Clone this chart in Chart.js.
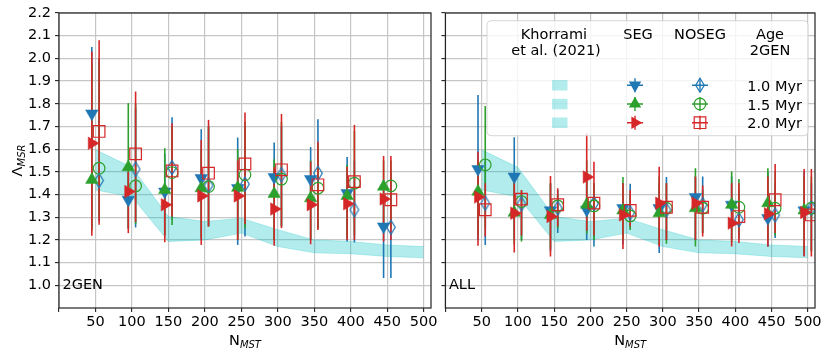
<!DOCTYPE html>
<html>
<head>
<meta charset="utf-8">
<script src="https://cdn.jsdelivr.net/npm/chart.js@4.4.1/dist/chart.umd.min.js"></script>
<style>
  body { margin: 0; background: #fff; }
  #wrap { position: relative; width: 830px; height: 358px; }
  canvas { position: absolute; top: 0; }
</style>
</head>
<body>
<div id="wrap">
  <canvas id="left" style="left:0" width="445" height="358"></canvas>
  <canvas id="right" style="left:436px" width="394" height="358"></canvas>
</div>
<script>
// N_MST values for each panel
const nLeft = [50, 100, 150, 200, 250, 300, 350, 400, 450];
const nRight = [50, 100, 150, 200, 250, 300, 350, 400, 450, 500];
const ages = ['1.0 Myr', '1.5 Myr', '2.0 Myr'];

// Khorrami et al. (2021) band
const bandN  = [50, 100, 150, 200, 250, 300, 350, 400, 450, 500];
const bandLo = [1.42, 1.39, 1.193, 1.20, 1.23, 1.171, 1.143, 1.139, 1.127, 1.121];
const bandHi = [1.597, 1.52, 1.303, 1.281, 1.296, 1.245, 1.20, 1.193, 1.178, 1.171];

// 2GEN panel, SEG
const gSeg10   = [1.757, 1.377, 1.413, 1.472, 1.428, 1.477, 1.468, 1.406, 1.259];
const gSeg10Lo = [1.25, 1.25, 1.22, 1.20, 1.178, 1.20, 1.20, 1.193, 1.032];
const gSeg10Hi = [2.05, 1.50, 1.58, 1.688, 1.651, 1.629, 1.609, 1.565, 1.45];
const gSeg15   = [1.465, 1.521, 1.42, 1.428, 1.43, 1.403, 1.384, 1.394, 1.435];
const gSeg15Lo = [1.24, 1.25, 1.22, 1.21, 1.20, 1.20, 1.20, 1.21, 1.25];
const gSeg15Hi = [1.98, 1.803, 1.604, 1.60, 1.60, 1.555, 1.55, 1.53, 1.55];
const gSeg20   = [1.626, 1.413, 1.355, 1.394, 1.394, 1.336, 1.355, 1.359, 1.38];
const gSeg20Lo = [1.218, 1.23, 1.19, 1.178, 1.20, 1.174, 1.181, 1.20, 1.193];
const gSeg20Hi = [2.03, 1.50, 1.42, 1.64, 1.55, 1.52, 1.545, 1.523, 1.57];
// 2GEN panel, NOSEG
const gNos10   = [1.462, 1.512, 1.519, 1.44, 1.446, 1.487, 1.494, 1.333, 1.256];
const gNos10Lo = [1.28, 1.255, 1.29, 1.26, 1.215, 1.26, 1.25, 1.189, 1.032];
const gNos10Hi = [2.0, 1.78, 1.741, 1.70, 1.70, 1.70, 1.732, 1.55, 1.50];
const gNos15   = [1.516, 1.438, 1.497, 1.435, 1.487, 1.468, 1.428, 1.45, 1.438];
const gNos15Lo = [1.30, 1.27, 1.266, 1.26, 1.25, 1.26, 1.25, 1.22, 1.25];
const gNos15Hi = [2.0, 1.80, 1.70, 1.70, 1.72, 1.72, 1.62, 1.68, 1.55];
const gNos20   = [1.678, 1.579, 1.504, 1.494, 1.535, 1.509, 1.443, 1.457, 1.377];
const gNos20Lo = [1.267, 1.28, 1.303, 1.259, 1.27, 1.252, 1.244, 1.20, 1.20];
const gNos20Hi = [2.08, 1.854, 1.714, 1.729, 1.761, 1.755, 1.633, 1.707, 1.57];

// ALL panel, SEG
const aSeg10   = [1.512, 1.479, 1.33, 1.333, 1.34, 1.34, 1.389, 1.355, 1.296, 1.33];
const aSeg10Lo = [1.20, 1.20, 1.15, 1.20, 1.18, 1.142, 1.20, 1.20, 1.17, 1.13];
const aSeg10Hi = [1.839, 1.653, 1.45, 1.50, 1.45, 1.45, 1.48, 1.48, 1.50, 1.50];
const aSeg15   = [1.413, 1.32, 1.31, 1.355, 1.33, 1.318, 1.34, 1.355, 1.362, 1.33];
const aSeg15Lo = [1.22, 1.18, 1.16, 1.227, 1.20, 1.18, 1.171, 1.19, 1.20, 1.15];
const aSeg15Hi = [1.55, 1.48, 1.45, 1.55, 1.477, 1.48, 1.516, 1.501, 1.516, 1.48];
const aSeg20   = [1.389, 1.318, 1.303, 1.477, 1.31, 1.362, 1.362, 1.274, 1.315, 1.321];
const aSeg20Lo = [1.174, 1.145, 1.127, 1.24, 1.16, 1.17, 1.20, 1.171, 1.171, 1.127];
const aSeg20Hi = [1.589, 1.46, 1.482, 1.67, 1.45, 1.523, 1.48, 1.45, 1.48, 1.512];
// ALL panel, NOSEG
const aNos10   = [1.362, 1.359, 1.34, 1.36, 1.32, 1.333, 1.355, 1.289, 1.31, 1.34];
const aNos10Lo = [1.178, 1.20, 1.23, 1.171, 1.25, 1.20, 1.23, 1.20, 1.208, 1.15];
const aNos10Hi = [1.55, 1.40, 1.42, 1.45, 1.447, 1.477, 1.479, 1.42, 1.45, 1.45];
const aNos15   = [1.531, 1.369, 1.35, 1.35, 1.306, 1.34, 1.34, 1.344, 1.34, 1.34];
const aNos15Lo = [1.25, 1.193, 1.25, 1.20, 1.244, 1.183, 1.23, 1.22, 1.22, 1.15];
const aNos15Hi = [1.79, 1.42, 1.40, 1.45, 1.40, 1.45, 1.42, 1.468, 1.50, 1.48];
const aNos20   = [1.333, 1.38, 1.355, 1.362, 1.33, 1.344, 1.344, 1.303, 1.377, 1.31];
const aNos20Lo = [1.215, 1.22, 1.26, 1.22, 1.26, 1.20, 1.215, 1.186, 1.23, 1.127];
const aNos20Hi = [1.45, 1.42, 1.428, 1.545, 1.42, 1.45, 1.44, 1.45, 1.535, 1.512];

const FONT = "'DejaVu Sans', sans-serif";
const BLUE = '#1f77b4', GREEN = '#2ca02c', RED = '#d62728';
const BAND = 'rgba(0,191,191,0.3)';
const SEG_DX = -5, NOS_DX = 5;

// thin hollow diamond marker (matplotlib 'd')
function diamond(color) {
  const c = document.createElement('canvas');
  c.width = 12; c.height = 17;
  const g = c.getContext('2d');
  g.strokeStyle = color; g.lineWidth = 1.2;
  g.beginPath();
  g.moveTo(6, 1.5); g.lineTo(10.3, 8.5); g.lineTo(6, 15.5); g.lineTo(1.7, 8.5);
  g.closePath(); g.stroke();
  return c;
}

function segSet(n, mean, lo, hi, color, rot) {
  return { type: 'scatter', data: n.map((v, i) => ({ x: v + SEG_DX, y: mean[i] })),
    errLo: lo, errHi: hi, pointStyle: 'triangle', rotation: rot, pointRadius: 7.2,
    backgroundColor: color, borderColor: color, borderWidth: 0.5 };
}
function nosSet(n, mean, lo, hi, color, style, r) {
  return { type: 'scatter', data: n.map((v, i) => ({ x: v + NOS_DX, y: mean[i] })),
    errLo: lo, errHi: hi, pointStyle: style, rotation: 0, pointRadius: r,
    backgroundColor: 'rgba(0,0,0,0)', borderColor: color, borderWidth: 1.2 };
}

function panelData(n, s10, s15, s20, o10, o15, o20) {
  const marks = [
    segSet(n, s10[0], s10[1], s10[2], BLUE, 180),
    nosSet(n, o10[0], o10[1], o10[2], BLUE, diamond(BLUE), 7),
    segSet(n, s15[0], s15[1], s15[2], GREEN, 0),
    nosSet(n, o15[0], o15[1], o15[2], GREEN, 'circle', 5.8),
    segSet(n, s20[0], s20[1], s20[2], RED, 90),
    nosSet(n, o20[0], o20[1], o20[2], RED, 'rect', 8.2)
  ];
  marks.forEach((d, k) => { d.order = 50 - k; });
  return { datasets: [
    { type: 'line', data: bandN.map((x, i) => ({ x, y: bandLo[i] })), borderColor: BAND,
      borderWidth: 0.8, pointRadius: 0, fill: false, order: 100 },
    { type: 'line', data: bandN.map((x, i) => ({ x, y: bandHi[i] })), borderColor: BAND,
      borderWidth: 0.8, pointRadius: 0, fill: '-1', backgroundColor: BAND, order: 99 },
    ...marks
  ] };
}

// vertical error bars, drawn over the band and under the markers
const errorBars = {
  id: 'errorBars',
  afterDatasetDraw(chart, args) {
    if (args.index !== 1) return;
    const { ctx, chartArea: a, scales: { x, y } } = chart;
    ctx.save();
    ctx.beginPath(); ctx.rect(a.left, a.top, a.width, a.height); ctx.clip();
    ctx.lineWidth = 1.6;
    chart.data.datasets.forEach(ds => {
      if (!ds.errLo) return;
      ctx.strokeStyle = ds.borderColor;
      ds.data.forEach((p, i) => {
        const px = x.getPixelForValue(p.x);
        ctx.beginPath();
        ctx.moveTo(px, y.getPixelForValue(ds.errLo[i]));
        ctx.lineTo(px, y.getPixelForValue(ds.errHi[i]));
        ctx.stroke();
      });
    });
    ctx.restore();
  }
};

function subText(ctx, main, sub, cx, cy) {
  ctx.font = '14.5px ' + FONT;
  const w1 = ctx.measureText(main).width;
  ctx.font = 'italic 10px ' + FONT;
  const w2 = ctx.measureText(sub).width;
  const x0 = cx - (w1 + w2) / 2;
  ctx.fillStyle = '#000'; ctx.textAlign = 'left'; ctx.textBaseline = 'alphabetic';
  ctx.font = '14.5px ' + FONT; ctx.fillText(main, x0, cy);
  ctx.font = 'italic 10px ' + FONT; ctx.fillText(sub, x0 + w1, cy + 3);
}

function frame(label, yTitle) {
  return {
    id: 'frame',
    afterDatasetsDraw(chart) {
      const { ctx, chartArea: a } = chart;
      ctx.save();
      ctx.strokeStyle = '#222'; ctx.lineWidth = 1.2;
      ctx.strokeRect(a.left, a.top, a.width, a.height);
      ctx.fillStyle = '#000'; ctx.font = '14.5px ' + FONT;
      ctx.textAlign = 'left'; ctx.textBaseline = 'alphabetic';
      ctx.fillText(label, a.left + 3.5, 288.5);
      subText(ctx, 'N', 'MST', (a.left + a.right) / 2, 345);
      if (yTitle) {
        ctx.translate(22, (a.top + a.bottom) / 2);
        ctx.rotate(-Math.PI / 2);
        subText(ctx, 'Λ', 'MSR', 0, 0);
      }
      ctx.restore();
    }
  };
}

function legendMark(ctx, kind, color, x, y) {
  ctx.strokeStyle = color; ctx.fillStyle = color; ctx.lineWidth = 1.4;
  ctx.beginPath();
  ctx.moveTo(x - 8, y); ctx.lineTo(x + 8, y);
  ctx.moveTo(x, y - 7); ctx.lineTo(x, y + 7);
  ctx.stroke();
  ctx.lineWidth = 1.2;
  ctx.beginPath();
  if (kind === 'down') { ctx.moveTo(x - 6.2, y - 3.6); ctx.lineTo(x + 6.2, y - 3.6); ctx.lineTo(x, y + 7.2); ctx.closePath(); ctx.fill(); }
  else if (kind === 'up') { ctx.moveTo(x - 6.2, y + 3.6); ctx.lineTo(x + 6.2, y + 3.6); ctx.lineTo(x, y - 7.2); ctx.closePath(); ctx.fill(); }
  else if (kind === 'right') { ctx.moveTo(x - 3.6, y - 6.2); ctx.lineTo(x - 3.6, y + 6.2); ctx.lineTo(x + 7.2, y); ctx.closePath(); ctx.fill(); }
  else if (kind === 'diamond') { ctx.moveTo(x, y - 7); ctx.lineTo(x + 4.3, y); ctx.lineTo(x, y + 7); ctx.lineTo(x - 4.3, y); ctx.closePath(); ctx.stroke(); }
  else if (kind === 'circle') { ctx.arc(x, y, 5.8, 0, Math.PI * 2); ctx.stroke(); }
  else { ctx.rect(x - 5.8, y - 5.8, 11.6, 11.6); ctx.stroke(); }
}

const tableLegend = {
  id: 'tableLegend',
  afterDraw(chart) {
    const { ctx, chartArea: a } = chart;
    const bx = a.right - 328, by = a.top + 7.7, bw = 321, bh = 115;
    ctx.save();
    ctx.beginPath();
    ctx.roundRect(bx, by, bw, bh, 4);
    ctx.fillStyle = 'rgba(255,255,255,0.8)'; ctx.fill();
    ctx.strokeStyle = 'rgba(204,204,204,0.8)'; ctx.lineWidth = 1; ctx.stroke();
    ctx.fillStyle = '#000'; ctx.font = '14.5px ' + FONT;
    ctx.textAlign = 'center'; ctx.textBaseline = 'alphabetic';
    ctx.fillText('Khorrami', bx + 67, by + 18.3);
    ctx.fillText('et al. (2021)', bx + 69, by + 34.3);
    ctx.fillText('SEG', bx + 151, by + 18.3);
    ctx.fillText('NOSEG', bx + 213, by + 18.3);
    ctx.fillText('Age', bx + 283, by + 18.3);
    ctx.fillText('2GEN', bx + 283, by + 34.3);
    const rows = [
      { y: by + 64.5, seg: 'down', nos: 'diamond', c: BLUE },
      { y: by + 83.3, seg: 'up', nos: 'circle', c: GREEN },
      { y: by + 102, seg: 'right', nos: 'square', c: RED }
    ];
    rows.forEach((r, i) => {
      ctx.fillStyle = BAND;
      ctx.fillRect(bx + 65, r.y - 5.2, 15.5, 10.5);
      legendMark(ctx, r.seg, r.c, bx + 148, r.y);
      legendMark(ctx, r.nos, r.c, bx + 213, r.y);
      ctx.fillStyle = '#000'; ctx.font = '14.5px ' + FONT; ctx.textAlign = 'right';
      ctx.fillText(ages[i], bx + 315, r.y + 5.6);
    });
    ctx.restore();
  }
};

function scales(showY, yWidth) {
  const grid = { color: '#c6c6c6', lineWidth: 1.2, tickLength: 4, tickColor: '#222', tickWidth: 1.1 };
  return {
    x: {
      type: 'linear', min: 0, max: 510,
      ticks: { stepSize: 50, includeBounds: false, autoSkip: false, maxRotation: 0, padding: 2,
        color: '#000', font: { family: FONT, size: 14.5 },
        callback: v => v === 0 ? '' : String(v) },
      grid: grid, border: { display: false },
      afterFit: s => { s.height = 50; }
    },
    y: {
      type: 'linear', min: 0.9, max: 2.2,
      ticks: { stepSize: 0.1, includeBounds: false, autoSkip: false, padding: 4,
        color: '#000', font: { family: FONT, size: 14.5 },
        callback: v => showY ? v.toFixed(1) : '' },
      grid: grid, border: { display: false },
      afterBuildTicks: s => { s.ticks = s.ticks.filter(t => t.value > 0.95); },
      afterFit: s => { s.width = yWidth; }
    }
  };
}

function baseOptions(showY, yWidth, padRight) {
  return {
    responsive: false, animation: false,
    layout: { padding: { top: 13, right: padRight, bottom: 0, left: 0 } },
    plugins: { legend: { display: false }, tooltip: { enabled: false } },
    scales: scales(showY, yWidth)
  };
}

new Chart(document.getElementById('left'), {
  type: 'scatter',
  data: panelData(nLeft,
    [gSeg10, gSeg10Lo, gSeg10Hi], [gSeg15, gSeg15Lo, gSeg15Hi], [gSeg20, gSeg20Lo, gSeg20Hi],
    [gNos10, gNos10Lo, gNos10Hi], [gNos15, gNos15Lo, gNos15Hi], [gNos20, gNos20Lo, gNos20Hi]),
  options: baseOptions(true, 59, 14),
  plugins: [errorBars, frame('2GEN', true)]
});

new Chart(document.getElementById('right'), {
  type: 'scatter',
  data: panelData(nRight,
    [aSeg10, aSeg10Lo, aSeg10Hi], [aSeg15, aSeg15Lo, aSeg15Hi], [aSeg20, aSeg20Lo, aSeg20Hi],
    [aNos10, aNos10Lo, aNos10Hi], [aNos15, aNos15Lo, aNos15Hi], [aNos20, aNos20Lo, aNos20Hi]),
  options: baseOptions(false, 7, 15),
  plugins: [errorBars, frame('ALL', false), tableLegend]
});
</script>
</body>
</html>
